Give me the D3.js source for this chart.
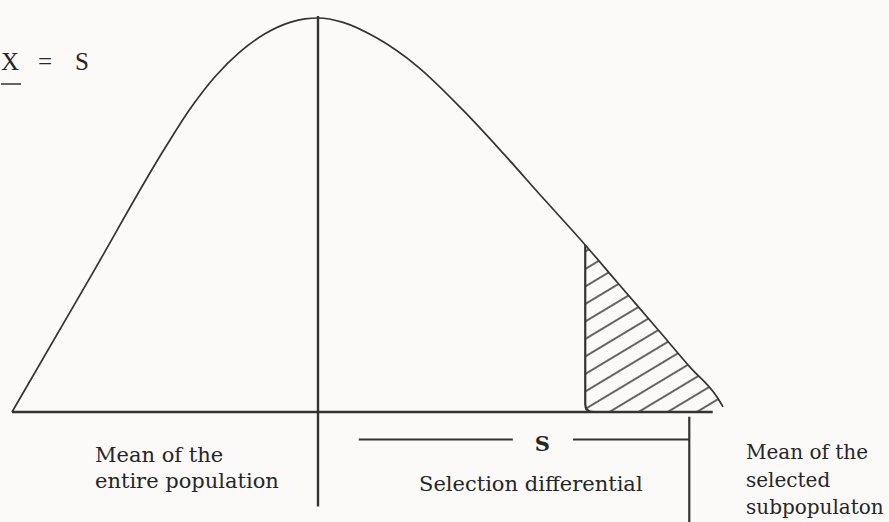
<!DOCTYPE html>
<html>
<head>
<meta charset="utf-8">
<script src="https://cdn.jsdelivr.net/npm/d3@7"></script>
<style>
  body { margin: 0; background: #fcf9f9; }
  svg { display: block; }
  .label { font-family: "DejaVu Serif", serif; font-size: 21px; fill: #262626; }
</style>
</head>
<body>
<svg id="chart"></svg>
<script>
// Curve: x in spread units (mean = 0), y as relative frequency (peak = 1)
const curveX = [-3, -2.235, -1.5, -1.255, -1.01, -0.765, -0.52, -0.275, -0.127, 0,
                0.245, 0.578, 0.971, 1.422, 1.814, 2.206, 2.62, 2.931, 3.353, 3.647, 3.912, 3.971];
const curveY = [0, 0.341, 0.67, 0.769, 0.851, 0.914, 0.96, 0.989, 0.998, 1,
                0.989, 0.949, 0.878, 0.766, 0.657, 0.543, 0.424, 0.33, 0.203, 0.114, 0.038, 0.013];

// Key values on the x axis
const populationMean = 0;
const selectionPoint = 2.62;
const selectedMean = 3.64;
const baselineEnd = 3.87;

// Text
const leftLabel = ["Mean of the", "entire population"];
const middleLabel = ["Selection differential"];
const rightLabel = ["Mean of the", "selected", "subpopulaton"];
const formulaParts = ["X", "=", "S"];

class SelectionFigure {
    constructor(_config) {
        this.config = {
            parentElement: _config.parentElement,
            containerWidth: _config.containerWidth || 889,
            containerHeight: _config.containerHeight || 522
        }
        this.initVis();
    }

    initVis() {
        let vis = this;

        vis.svg = d3.select(vis.config.parentElement)
            .attr('width', vis.config.containerWidth)
            .attr('height', vis.config.containerHeight);

        vis.xScale = d3.scaleLinear().domain([-3, 4]).range([12, 726]);
        vis.yScale = d3.scaleLinear().domain([0, 1]).range([412, 18]);

        vis.points = curveX.map((d, i) => ({ x: d, y: curveY[i] }));

        // hatch pattern for the selected tail
        let defs = vis.svg.append('defs');
        defs.append('pattern')
            .attr('id', 'hatch')
            .attr('patternUnits', 'userSpaceOnUse')
            .attr('width', 40).attr('height', 15)
            .attr('patternTransform', 'rotate(-31)')
          .append('line')
            .attr('x1', 0).attr('y1', 7).attr('x2', 40).attr('y2', 7)
            .attr('stroke', '#333').attr('stroke-width', 1.3);

        vis.renderVis();
    }

    renderVis() {
        let vis = this;
        const x = vis.xScale, y = vis.yScale;
        const ink = '#333';

        const line = d3.line()
            .x(d => x(d.x)).y(d => y(d.y))
            .curve(d3.curveMonotoneX);

        // tail area beyond the selection point
        const tail = vis.points.filter(d => d.x >= selectionPoint);
        const area = d3.area()
            .x(d => x(d.x)).y0(y(0)).y1(d => y(d.y))
            .curve(d3.curveMonotoneX);

        vis.svg.append('path')
            .datum(tail)
            .attr('d', area)
            .attr('fill', 'url(#hatch)');

        // the curve
        vis.svg.append('path')
            .datum(vis.points)
            .attr('d', line)
            .attr('fill', 'none')
            .attr('stroke', ink)
            .attr('stroke-width', 1.7);

        // baseline
        vis.svg.append('line')
            .attr('x1', x(-3)).attr('x2', x(baselineEnd))
            .attr('y1', y(0)).attr('y2', y(0))
            .attr('stroke', ink).attr('stroke-width', 2.4);

        // mean of the population
        vis.svg.append('line')
            .attr('x1', x(populationMean)).attr('x2', x(populationMean))
            .attr('y1', y(1.005)).attr('y2', y(-0.24))
            .attr('stroke', ink).attr('stroke-width', 2.4);

        // selection point, rounded into the baseline
        const topY = y(tail[0].y), x0 = x(selectionPoint), r = 8;
        vis.svg.append('path')
            .attr('d', `M${x0},${topY} L${x0},${y(0) - r} Q${x0},${y(0)} ${x0 + r},${y(0)}`)
            .attr('fill', 'none')
            .attr('stroke', ink).attr('stroke-width', 2.2);

        // mean of the selected group
        vis.svg.append('line')
            .attr('x1', x(selectedMean)).attr('x2', x(selectedMean))
            .attr('y1', y(-0.012)).attr('y2', y(-0.3))
            .attr('stroke', ink).attr('stroke-width', 2.2);

        // S bracket
        const sY = y(-0.07);
        vis.svg.append('line')
            .attr('x1', x(0.4)).attr('x2', x(1.91))
            .attr('y1', sY).attr('y2', sY)
            .attr('stroke', ink).attr('stroke-width', 2);
        vis.svg.append('line')
            .attr('x1', x(2.5)).attr('x2', x(selectedMean))
            .attr('y1', sY).attr('y2', sY)
            .attr('stroke', ink).attr('stroke-width', 2);
        vis.svg.append('text')
            .attr('class', 'label')
            .attr('x', x(2.2)).attr('y', sY + 11)
            .attr('text-anchor', 'middle')
            .style('font-weight', 'bold')
            .text('S');

        // labels
        const addLines = (lines, lx, ly, step, size) => {
            vis.svg.append('text')
                .attr('class', 'label')
                .style('font-size', size + 'px')
                .selectAll('tspan')
                .data(lines)
                .join('tspan')
                .attr('x', lx)
                .attr('y', (d, i) => ly + i * step)
                .text(d => d);
        };
        addLines(leftLabel, 95, 462, 26, 21);
        addLines(middleLabel, 419, 491, 27, 21);
        addLines(rightLabel, 746, 459, 27.5, 20);

        // formula in the top left corner
        const fx = [1, 38, 75];
        vis.svg.append('text')
            .attr('class', 'label')
            .style('font-size', '25px')
            .style('font-family', '"Liberation Serif", serif')
            .selectAll('tspan')
            .data(formulaParts)
            .join('tspan')
            .attr('x', (d, i) => fx[i])
            .attr('y', 70)
            .text(d => d);
        vis.svg.append('line')
            .attr('x1', 1).attr('x2', 21)
            .attr('y1', 84).attr('y2', 84)
            .attr('stroke', ink).attr('stroke-width', 1.5);
    }
}

new SelectionFigure({ parentElement: '#chart' });
</script>
</body>
</html>
